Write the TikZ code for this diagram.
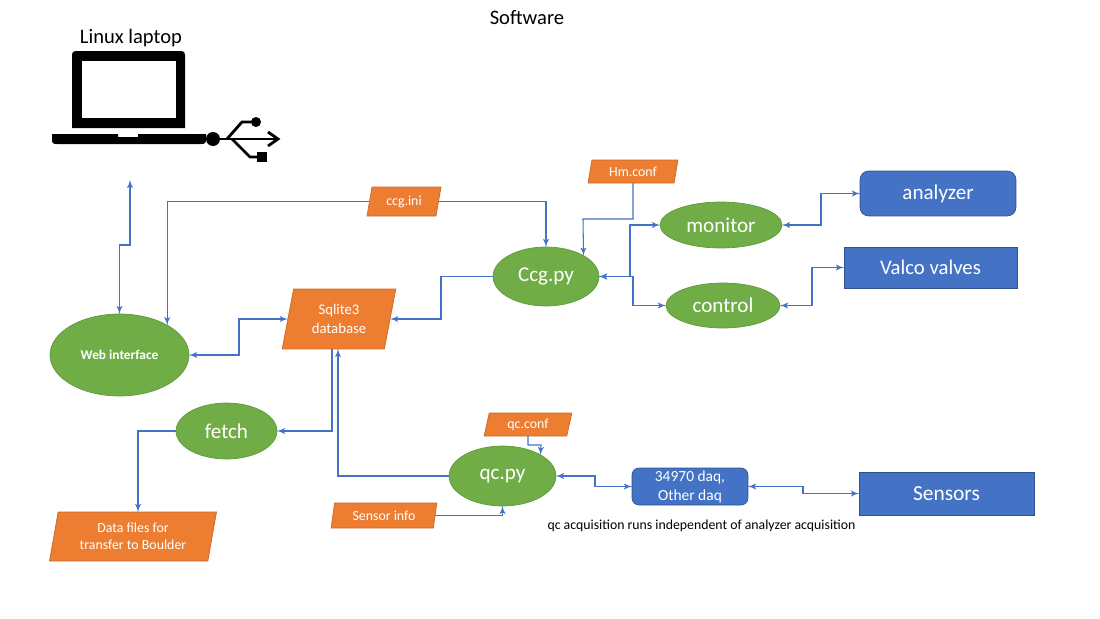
\documentclass[tikz,border=0pt]{standalone}
\usepackage{fontspec}
\setmainfont{Carlito}
\usetikzlibrary{shapes, arrows}
\definecolor{cellgreen}{HTML}{70AD47}
\definecolor{edgegreen}{HTML}{5F9A3A}
\definecolor{cellorange}{HTML}{ED7D31}
\definecolor{edgeorange}{HTML}{C96A2A}
\definecolor{cellblue}{HTML}{4472C4}
\definecolor{edgeblue}{HTML}{2F528F}
\tikzstyle{pcell} = [ellipse, draw=edgegreen, fill=cellgreen, text=white, inner sep=0pt, outer sep=0pt]
\tikzstyle{fcell} = [trapezium, trapezium left angle=77, trapezium right angle=103, trapezium stretches=true, draw=edgeorange, fill=cellorange, text=white, align=center, inner sep=0pt, outer sep=0pt, font=\fontsize{7.9}{9.6}\selectfont]
\tikzstyle{hwcell} = [rectangle, draw=edgeblue, fill=cellblue, text=white, align=center, inner sep=0pt, outer sep=0pt]
\tikzstyle{line} = [draw=cellblue, line width=0.6pt, -latex']
\tikzstyle{both} = [draw=cellblue, line width=0.6pt, latex'-latex']
\tikzstyle{icon} = [black, line width=1.6pt]

\begin{document}
\begin{tikzpicture}[x=0.02cm, y=-0.02cm]
    \useasboundingbox (0,0) rectangle (1100,619);

    \node (title) at (527,18) {\fontsize{11.7}{14}\selectfont Software};
    \node (laptop) at (131,38) {\fontsize{11.7}{14}\selectfont Linux laptop};

    % laptop and usb icon
    \fill (72,128) -- (72,55) .. controls (72,52) and (73,51) .. (76,51) -- (181,51) .. controls (184,51) and (185,52) .. (185,55) -- (185,128) -- cycle;
    \fill[white] (82,61) rectangle (176,118);
    \fill (52,134) -- (118,134) -- (118,137) -- (138,137) -- (138,134) -- (206,134) -- (206,139) .. controls (206,143) and (205,144) .. (201,144) -- (57,144) .. controls (53,144) and (52,143) .. (52,139) -- cycle;
    \fill (213,139) circle (7);
    \draw[icon] (213,139) -- (277,139);
    \draw[icon] (268,132) -- (278,139) -- (268,146);
    \draw[icon] (227,139) -- (242,122) -- (255,122);
    \fill (256,122) circle (5);
    \draw[icon] (232,139) -- (250,157) -- (258,157);
    \fill (257,152) rectangle (267,162);

    % programs
    \node[pcell, minimum width=2.12cm, minimum height=1.18cm, font=\fontsize{12}{14}\selectfont] (ccg) at (546,276.5) {Ccg.py};
    \node[pcell, minimum width=2.44cm, minimum height=0.92cm, font=\fontsize{12}{14}\selectfont] (monitor) at (721,225) {monitor};
    \node[pcell, minimum width=2.28cm, minimum height=0.9cm, font=\fontsize{12}{14}\selectfont] (control) at (723,305.5) {control};
    \node[pcell, minimum width=2.78cm, minimum height=1.64cm, font=\fontsize{7.6}{9}\selectfont\bfseries] (web) at (119.5,355) {Web interface};
    \node[pcell, minimum width=2.02cm, minimum height=1.12cm, font=\fontsize{12}{14}\selectfont] (fetch) at (226.5,431) {fetch};
    \node[pcell, minimum width=2.14cm, minimum height=1.2cm, font=\fontsize{12}{14}\selectfont] (qc) at (502.5,476) {qc.py};

    % files
    \node[fcell, minimum width=1.48cm, minimum height=0.58cm] (ini) at (404,201.5) {ccg.ini};
    \node[fcell, minimum width=1.8cm, minimum height=0.46cm] (hm) at (633,171.5) {Hm.conf};
    \node[fcell, minimum width=2.28cm, minimum height=1.2cm, font=\fontsize{8.4}{11}\selectfont] (sqlite) at (339,319) {Sqlite3\\database};
    \node[fcell, minimum width=1.76cm, minimum height=0.46cm] (qcconf) at (528,424.5) {qc.conf};
    \node[fcell, minimum width=2.12cm, minimum height=0.5cm] (sinfo) at (384,515.5) {Sensor info};
    \node[fcell, minimum width=3.36cm, minimum height=0.98cm] (data) at (133,536.5) {Data files for\\transfer to Boulder};

    % hardware
    \node[hwcell, rounded corners=5pt, minimum width=3.12cm, minimum height=0.9cm, font=\fontsize{12}{14}\selectfont] (analyzer) at (938,193.5) {analyzer};
    \node[hwcell, minimum width=3.46cm, minimum height=0.82cm, font=\fontsize{11.8}{14}\selectfont] (valco) at (930.5,267.5) {Valco valves};
    \node[hwcell, minimum width=3.5cm, minimum height=0.86cm, font=\fontsize{12.2}{14}\selectfont] (sensors) at (946.5,493.5) {Sensors};
    \node[hwcell, rounded corners=4pt, minimum width=2.32cm, minimum height=0.74cm, font=\fontsize{8.8}{10.8}\selectfont] (daq) at (690,486.5) {34970 daq,\\Other daq};

    \node (note) at (701.5,526) {\fontsize{7.85}{9}\selectfont qc acquisition runs independent of analyzer acquisition};

    \coordinate (usbend) at (130,180);

    \path[both] (usbend) -- (130,245) -- (119.5,245) -- (web.north);
    \path[line] (ini.west) -| (web.32);
    \path[line] (ini.east) -| (ccg.north);
    \path[line] (hm.south) |- (583,219) -- (ccg.29);
    \path[line] (ccg.west) -- (441,276.5) |- (sqlite.east);
    \path[both] (ccg.east) -- (630,276.5) |- (monitor.west);
    \path[both] (ccg.east) -- (633,276.5) |- (control.west);
    \path[both] (monitor.east) -- (821,225) |- (analyzer.west);
    \path[both] (control.east) -- (812,305.5) |- (valco.west);
    \path[both] (web.east) -- (239,355) |- (sqlite.west);
    \path[line] ([xshift=-0.14cm]sqlite.south) |- (fetch.east);
    \path[line] (fetch.west) -| ([xshift=0.1cm]data.north);
    \path[line] (qc.west) -| ([xshift=-0.02cm]sqlite.south);
    \path[line] (qcconf.south) |- (541,445) -- (qc.29);
    \path[line] (sinfo.east) -| (qc.south);
    \path[both] (qc.east) -- (595,476) |- (daq.west);
    \path[both] (daq.east) -- (803,486.5) |- (sensors.west);
\end{tikzpicture}
\end{document}
